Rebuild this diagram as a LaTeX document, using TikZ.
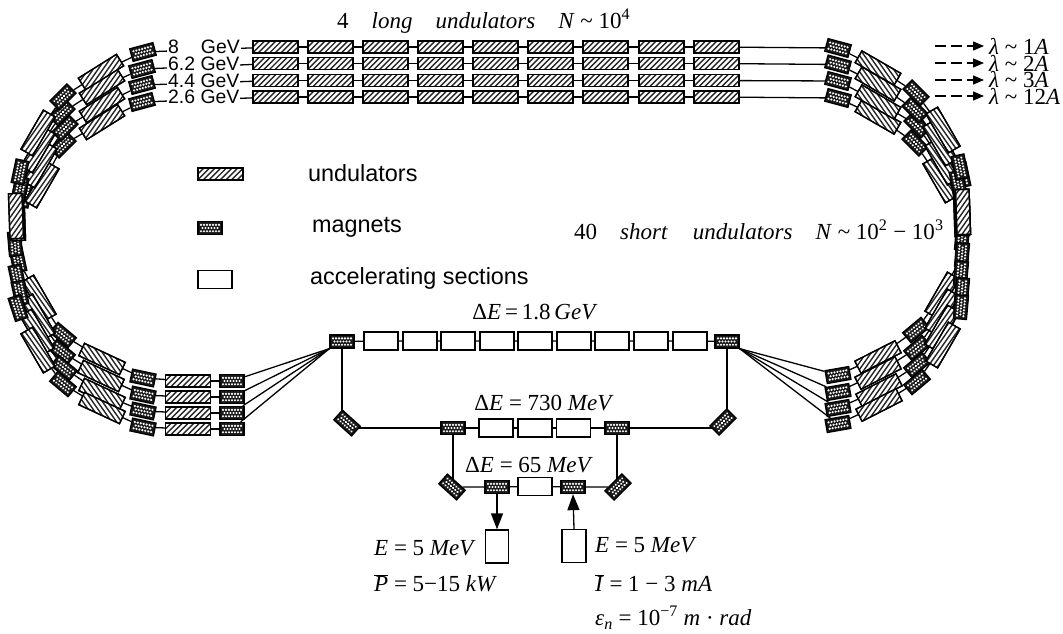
\documentclass[tikz,border=0pt]{standalone}
\usepackage{fontspec}
\setmainfont{Liberation Serif}
\newfontfamily\sansf{Liberation Sans}
\usetikzlibrary{arrows.meta}
\pgfdeclarelayer{bg}
\pgfdeclarelayer{back}
\pgfsetlayers{bg,back,main}
\tikzset{
  x=1pt,y=-1pt,
  undbox/.style={draw=black,line width=1.3pt,fill=white,minimum width=45pt,minimum height=12pt,inner sep=0pt,transform shape},
  magbox/.style={draw=black,line width=1.3pt,minimum width=24pt,minimum height=13pt,inner sep=0pt,transform shape},
  accbox/.style={draw=black,line width=1.3pt,fill=white,minimum width=34pt,minimum height=18pt,inner sep=0pt,transform shape},
  srcbox/.style={draw=black,line width=1.3pt,fill=white,minimum width=23pt,minimum height=33pt,inner sep=0pt},
  conn/.style={draw=black,line width=1.3pt},
  dashconn/.style={draw=black,line width=1.3pt,dash pattern=on 11pt off 5pt,shorten >=5pt,-{Triangle[length=11pt,width=9pt]}},
  feedarrow/.style={draw=black,line width=1.3pt,-{Triangle[length=16pt,width=12pt]}},
  sertext/.style={inner sep=0pt,font=\fontsize{23}{25}\selectfont},
  santext/.style={inner sep=0pt,font=\sansf\fontsize{19.4}{21}\selectfont},
  legtext/.style={inner sep=0pt,font=\sansf\fontsize{23.4}{25}\selectfont},
}
\newcommand\elU[2]{%
  \pgfmathsetmacro\hatchang{#2<-80?55:(#2<0?125:(#2>0?55:45))}%
  \pgfmathsetmacro\halfh{#2==0?6:6.8}%
  \node[undbox,minimum height=2*\halfh pt] (#1) at (0,0) {};
  \begin{scope}
    \clip (-22.5,-\halfh) rectangle (22.5,\halfh);
    \begin{scope}[rotate=\hatchang-#2]
      \draw[line width=1.4pt,black!85] foreach \h in {-28,-24,...,28} {(-32,\h) -- (32,\h)};
    \end{scope}
  \end{scope}
  \draw[line width=1.3pt] (-22.5,-\halfh) rectangle (22.5,\halfh);
}
\newcommand\elM[2]{%
  \node[magbox,fill=black!90] (#1) at (0,0) {};
  \fill[white] foreach \dx in {-9,-6,...,9} {(\dx,-3.2) circle (1.2pt) (\dx,3.2) circle (1.2pt)}
               foreach \dx in {-7.5,-4.5,...,7.5} {(\dx,0) circle (1.2pt)};
}
\newcommand\elA[2]{\node[accbox] (#1) at (0,0) {};}
\newcommand\el[5]{%
  \begin{scope}[shift={(#3,#4)},rotate=#5]
    \csname el#1\endcsname{#2}{#5}
  \end{scope}}
\newcommand\lng[1]{U/275.5/#1/0,U/330.5/#1/0,U/385.5/#1/0,U/440.5/#1/0,U/495.5/#1/0,U/550.5/#1/0,U/605.5/#1/0,U/661.5/#1/0,U/716.5/#1/0}
\newcommand\ringchain[2]{%
  \edef\tmplist{#2}%
  \foreach \k/\xx/\yy/\aa [count=\i] in \tmplist {
    \el{\k}{r#1e\i}{\xx}{\yy}{\aa}
    \xdef\lastidx{\i}
    \ifnum\i>1
      \pgfmathtruncatemacro\pv{\i-1}
      \begin{pgfonlayer}{back}
        \path[conn] (r#1e\pv) -- (r#1e\i);
      \end{pgfonlayer}
    \fi
  }
  \begin{pgfonlayer}{back}
    \path[conn] (mL.south west) -- (r#1e1);
    \path[conn] (r#1e\lastidx) -- (mR.south east);
  \end{pgfonlayer}
}
\begin{document}
\begin{tikzpicture}
\useasboundingbox (0,0) rectangle (1063,633);
\begin{pgfonlayer}{bg}\fill[white] (0,0) rectangle (1063,633);\end{pgfonlayer}

% central arc
\el{M}{mL}{342}{341.5}{0}
\el{M}{mR}{727}{341.5}{0}

% four rings
\ringchain{4}{M/232/381/0,U/188/381/0,M/143/378/-12,U/102/359/-25,M/63/335/-40,U/39/298/-60,M/18/260/-78,M/15/244/-85,U/18/218/-88,M/24/195/78,U/42/185/60,M/63/145/45,U/102/122/32,M/142/102/15,\lng{97},M/838/98/-15,U/878/117/-30,M/915/143/-45,U/940/180/-60,M/959/190/-78,U/961/214/-88,M/962/238/85,M/962/255/85,U/942/295/60,M/916/330/40,U/878/357/27,M/838/375/10}
\ringchain{3}{M/232/397/0,U/188/397/0,M/143/395/-12,U/101/376/-25,M/62/352/-40,U/38/317/-60,M/17/277/-78,U/17/218/-88,M/22/180/78,U/40/165/60,M/65/128/45,U/102/105/32,M/142/85/15,\lng{80.5},M/838/81/-15,U/878/102/-30,M/917/125/-45,U/942/162/-60,M/962/175/-78,U/962/213/-88,M/961/273/85,U/942/312/60,M/917/348/40,U/878/373/27,M/838/392/10}
\ringchain{2}{M/232/413/0,U/188/413/0,M/143/411/-12,U/102/394/-25,M/64/368/-40,U/37/332/-60,M/20/293/-78,U/17/216/-88,M/20/189/78,U/38/150/60,M/62/113/45,U/102/87/32,M/142/69/15,\lng{63.5},M/838/64.5/-15,U/878/84/-30,M/915/110/-45,U/940/143/-60,M/958/183/-78,U/963/212/-88,M/962/290/85,U/942/328/60,M/917/365/40,U/879/390/27,M/838/408/10}
\ringchain{1}{M/232/429/0,U/188/429/0,M/143/427/-12,U/102/408/-25,M/63/384/-40,U/38/350/-60,M/18/308/-72,U/16/216/-88,M/20/172/78,U/38/133/60,M/63/97/45,U/101/72/32,M/143/52/15,\lng{47},M/838/48/-15,U/878/68/-30,M/916/93/-45,U/943/130/-60,M/960/167/-78,U/963/212/-88,M/961/307/85,U/943/345/60,M/917/382/40,U/879/405/27,M/838/424/10}

% main accelerating section
\foreach \xx [count=\i] in {381,420,458,497,535,574,612,651,690} {
  \el{A}{acA\i}{\xx}{341}{0}
}
\begin{pgfonlayer}{back}
  \path[conn] (mL) -- (acA1) -- (acA2) -- (acA3) -- (acA4) -- (acA5) -- (acA6) -- (acA7) -- (acA8) -- (acA9) -- (mR);
\end{pgfonlayer}

% second level
\el{M}{dA}{347}{423}{-42}
\el{M}{dB}{723}{422}{45}
\el{M}{mB}{453}{428}{0}
\el{M}{mC}{617}{428}{0}
\el{A}{acB1}{496}{428}{0}
\el{A}{acB2}{535}{428}{0}
\el{A}{acB3}{573.5}{428}{0}
\begin{pgfonlayer}{back}
  \path[conn] (mB) -- (acB1) -- (acB2) -- (acB3) -- (mC);
  \path[conn] (mB) -- (mB -| dA);
  \path[conn] (mC) -- (mC -| dB);
  \path[conn] (mL.south) -- (mL.south |- dA);
  \path[conn] (mR.south) -- (mR.south |- dB);
\end{pgfonlayer}

% third level
\el{M}{dC}{452}{487}{-42}
\el{M}{dD}{618}{487}{45}
\el{M}{mD}{497}{487}{0}
\el{M}{mE}{573}{487}{0}
\el{A}{acC}{535}{486.5}{0}
\begin{pgfonlayer}{back}
  \path[conn] (dC) -- (mD) -- (acC) -- (mE) -- (dD);
  \path[conn] (mB) -- (mB |- dC);
  \path[conn] (mC) -- (mC |- dD);
\end{pgfonlayer}

% sources
\node[srcbox] (srcA) at (497,546.5) {};
\node[srcbox,minimum width=24pt] (srcB) at (574,546) {};
\path[feedarrow] (mD.south) -- (srcA.north);
\path[feedarrow] (srcB.north) -- (mE.south);

% energies (white behind them breaks the line from magnet to undulator)
\node[santext,fill=white,anchor=west,inner xsep=1pt] (en1) at (167,47) {8\hspace{22pt}GeV};
\node[santext,fill=white,anchor=west,inner xsep=1pt] (en2) at (167,63.5) {6.2 GeV};
\node[santext,fill=white,anchor=west,inner xsep=1pt] (en3) at (167,80.5) {4.4 GeV};
\node[santext,fill=white,anchor=west,inner xsep=1pt] (en4) at (167,97) {2.6 GeV};

% titles
\node[sertext,anchor=west] (ttA) at (337,21) {4\hspace{23pt}\textit{long}\hspace{23pt}\textit{undulators}\hspace{23pt}\textit{N} \textasciitilde\ 10\textsuperscript{4}};
\node[sertext,anchor=west] (ttB) at (574,230) {40\hspace{23pt}\textit{short}\hspace{25pt}\textit{undulators}\hspace{23pt}\textit{N} \textasciitilde\ 10\textsuperscript{2} − 10\textsuperscript{3}};

% legend
\el{U}{lgU}{220.5}{174}{0}
\el{M}{lgM}{210}{228}{0}
\el{A}{lgA}{215}{279.5}{0}
\node[legtext,anchor=west] (ltU) at (308,173) {undulators};
\node[legtext,anchor=west] (ltM) at (312,227) {magnets};
\node[legtext,anchor=west] (ltA) at (310,278) {accelerating sections};

% wavelengths
\foreach \yy/\txt [count=\i] in {46/1,63/2,80/3,96/12} {
  \node[sertext,anchor=west] (wl\i) at (989,\yy) {\textit{λ} \textasciitilde\ \txt\textit{A}};
  \coordinate (ws\i) at (935,\yy);
  \path[dashconn] (ws\i) -- (wl\i.west);
}

% energy gains and parameters
\node[sertext] (gA) at (535,312) {Δ\textit{E}\,=\,1.8\,\textit{GeV}};
\node[sertext] (gB) at (544,403) {Δ\textit{E} = 730 \textit{MeV}};
\node[sertext] (gC) at (529,465) {Δ\textit{E} = 65 \textit{MeV}};
\node[sertext,anchor=west] (pA) at (374,548) {\textit{E} = 5 \textit{MeV}};
\node[sertext,anchor=west] (pB) at (374,583) {$\overline{\hbox{\textit{P}}}$ = 5−15 \textit{kW}};
\node[sertext,anchor=west] (pC) at (595,545) {\textit{E} = 5 \textit{MeV}};
\node[sertext,anchor=west] (pD) at (595,583) {$\overline{\hbox{\textit{I}}}$ = 1 − 3 \textit{mA}};
\node[sertext,anchor=west] (pE) at (595,618) {\textit{ε\textsubscript{n}} = 10\textsuperscript{−7} \textit{m} · \textit{rad}};
\end{tikzpicture}
\end{document}
